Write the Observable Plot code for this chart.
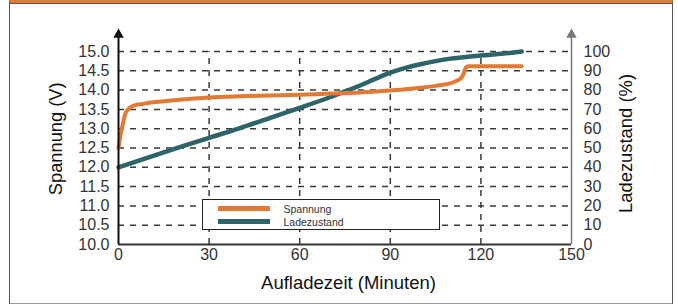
<!DOCTYPE html>
<html><head><meta charset="utf-8">
<script src="https://cdn.jsdelivr.net/npm/d3@7"></script>
<script src="https://cdn.jsdelivr.net/npm/@observablehq/plot@0.6"></script>
<style>
body{margin:0;background:#fff;font-family:"Liberation Sans",Arial,sans-serif;}
#wrap{position:relative;width:678px;height:304px;overflow:hidden;background:#fff;}
#wrap svg{position:absolute;left:0;top:0;}
#frame{position:absolute;left:9px;top:0;width:664px;height:304px;box-sizing:border-box;border-left:1.5px solid #555;border-right:1.5px solid #555;border-bottom:1px solid #999;border-top:3px solid #e07b3a;pointer-events:none;}
#frame::after{content:"";position:absolute;left:0;right:0;top:0;height:1px;background:#555;}
#legend{position:absolute;left:202px;top:199px;width:238px;height:31px;box-sizing:border-box;border:1.5px solid #222;background:#fff;font-size:10.5px;color:#333;}
.item{position:absolute;left:14.5px;height:12px;line-height:12px;display:flex;align-items:center;white-space:nowrap;}
.sw{width:52px;height:5px;margin-right:14px;}
</style></head>
<body>
<div id="wrap"></div>
<script>
// Data
const timeTicks = [0, 30, 60, 90, 120, 150];
const voltTicks = [10, 10.5, 11, 11.5, 12, 12.5, 13, 13.5, 14, 14.5, 15];
const socTicks = [0, 10, 20, 30, 40, 50, 60, 70, 80, 90, 100];

const timeV = [0, 0.7, 1.5, 2.3, 3.2, 4, 5, 6, 8, 10, 15, 20, 30, 40, 50, 60, 70, 80, 90, 95, 100, 105, 110, 112, 113.5, 114.3, 114.8, 115.3, 116, 133.5];
const volt  = [12.5, 12.85, 13.15, 13.4, 13.5, 13.56, 13.6, 13.62, 13.64, 13.67, 13.71, 13.75, 13.81, 13.84, 13.86, 13.88, 13.91, 13.94, 13.99, 14.02, 14.06, 14.11, 14.18, 14.24, 14.32, 14.43, 14.55, 14.61, 14.62, 14.62];

const timeS = [0, 10, 20, 30, 40, 50, 60, 70, 75, 80, 85, 90, 95, 100, 105, 110, 115, 120, 125, 130, 133.5];
const soc   = [40, 45.2, 50.3, 55.3, 60.2, 65.5, 70.8, 76.3, 79.3, 82.4, 85.8, 89.0, 91.5, 93.4, 95.0, 96.3, 97.2, 97.9, 98.6, 99.3, 100];

const seriesNames = ["Spannung", "Ladezustand"];
const seriesColors = ["#e27a35", "#2d6468"];

const socToV = p => 10 + p / 20;
const spannung = timeV.map((t, i) => ({t, v: volt[i]}));
const ladung = timeS.map((t, i) => ({t, v: socToV(soc[i])}));

const grid = {stroke: "#3a3a3a", strokeWidth: 1.5, strokeDasharray: "6,6"};
const font = '"Liberation Sans", Arial, sans-serif';

const chart = Plot.plot({
  width: 678, height: 304,
  marginLeft: 118, marginRight: 107, marginTop: 51, marginBottom: 60,
  style: {fontFamily: font, fontSize: "16px", color: "#333", background: "transparent", overflow: "visible"},
  x: {domain: [0, 150], label: null},
  y: {domain: [10, 15], label: null},
  marks: [
    Plot.ruleY(voltTicks.slice(1), {x1: 0, x2: 150, ...grid}),
    Plot.ruleX(timeTicks.slice(1, 5), {y1: 10, y2: 15, ...grid}),
    Plot.line(ladung, {x: "t", y: "v", stroke: seriesColors[1], strokeWidth: 4.5, curve: "monotone-x"}),
    Plot.line(spannung, {x: "t", y: "v", stroke: seriesColors[0], strokeWidth: 4, curve: "monotone-x"}),
    Plot.ruleY([10], {x1: 0, x2: 150, stroke: "#333", strokeWidth: 2}),
    Plot.ruleX([0], {y1: 10, y2: 15.38, stroke: "#111", strokeWidth: 2}),
    Plot.ruleX([150], {y1: 10, y2: 15.38, stroke: "#777", strokeWidth: 1.5}),
    Plot.dot([0], {x: d => d, y: () => 15.438, symbol: "triangle", r: 3.9, fill: "#111", stroke: "none"}),
    Plot.dot([150], {x: d => d, y: () => 15.438, symbol: "triangle", r: 3.9, fill: "#777", stroke: "none"}),
    Plot.axisX(timeTicks, {tickSize: 0, tickPadding: 4, label: null, fill: "#333"}),
    Plot.axisY(voltTicks, {anchor: "left", tickSize: 0, tickPadding: 9, label: null, tickFormat: d3.format(".1f"), fill: "#333"}),
    Plot.axisY(socTicks.map(socToV), {anchor: "right", tickSize: 0, tickPadding: 12, label: null, tickFormat: (d, i) => String(socTicks[i]), fill: "#333"}),
    Plot.text(["Aufladezeit (Minuten)"], {frameAnchor: "bottom", dx: 3.5, dy: 31, lineAnchor: "top", textAnchor: "middle", fontSize: 18.5, fill: "#111"}),
    Plot.text(["Spannung (V)"], {frameAnchor: "left", rotate: -90, dx: -70, dy: -9.2, lineAnchor: "top", textAnchor: "middle", fontSize: 18.3, fill: "#111"}),
    Plot.text(["Ladezustand (%)"], {frameAnchor: "right", rotate: -90, dx: 47, dy: -4.5, lineAnchor: "top", textAnchor: "middle", fontSize: 18.4, fill: "#111"})
  ]
});

const wrap = document.getElementById("wrap");
wrap.appendChild(chart);

const legend = document.createElement("div");
legend.id = "legend";
seriesNames.forEach((name, i) => {
  const it = document.createElement("div");
  it.className = "item";
  it.style.top = (i === 0 ? 2.5 : 15.5) + "px";
  const sw = document.createElement("span");
  sw.className = "sw";
  sw.style.background = seriesColors[i];
  const tx = document.createElement("span");
  tx.textContent = name;
  it.appendChild(sw); it.appendChild(tx);
  legend.appendChild(it);
});
wrap.appendChild(legend);

const frame = document.createElement("div");
frame.id = "frame";
wrap.appendChild(frame);
</script>
</body></html>
